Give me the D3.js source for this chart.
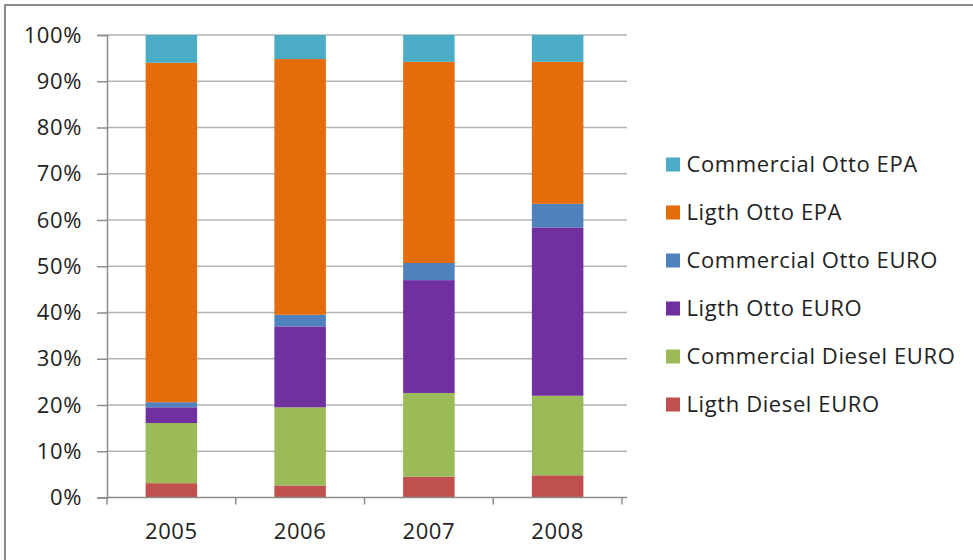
<!DOCTYPE html>
<html>
<head>
<meta charset="utf-8">
<script src="https://cdn.jsdelivr.net/npm/d3@7"></script>
<style>
  html, body { margin: 0; padding: 0; background: #fff; }
  svg { display: block; font-family: "Open Sans", Lato, sans-serif; }
</style>
</head>
<body>
<svg id="chart" width="973" height="560"></svg>
<script>
// Vehicle fleet share by technology, 2005–2008 (percent of total)
const years = ["2005", "2006", "2007", "2008"];
const seriesNames = [
  "Ligth Diesel EURO",
  "Commercial Diesel EURO",
  "Ligth Otto EURO",
  "Commercial Otto EURO",
  "Ligth Otto EPA",
  "Commercial Otto EPA"
];
const ligthDieselEuro      = [3.1, 2.6, 4.5, 4.8];
const commercialDieselEuro = [13.0, 16.9, 18.1, 17.2];
const ligthOttoEuro        = [3.4, 17.5, 24.4, 36.4];
const commercialOttoEuro   = [1.1, 2.5, 3.7, 5.1];
const ligthOttoEpa         = [73.4, 55.3, 43.5, 30.7];
const commercialOttoEpa    = [6.0, 5.2, 5.8, 5.8];
const yTicks = [0, 10, 20, 30, 40, 50, 60, 70, 80, 90, 100];
const colors = ["#C0504D", "#9BBB59", "#7030A0", "#4F81BD", "#E46C0A", "#4BACC6"];

const seriesValues = [ligthDieselEuro, commercialDieselEuro, ligthOttoEuro,
                      commercialOttoEuro, ligthOttoEpa, commercialOttoEpa];

// Rows for d3.stack, normalised to 100% per year
const rows = years.map((y, i) => {
  const r = { year: y };
  let total = 0;
  seriesNames.forEach((s, k) => { total += seriesValues[k][i]; });
  seriesNames.forEach((s, k) => { r[s] = seriesValues[k][i] / total * 100; });
  return r;
});
const stacked = d3.stack().keys(seriesNames)(rows);

const svg = d3.select("#chart");
const FONT = "'Open Sans', Lato, sans-serif";
const FS = "22px";
const LS = "0.6px";

// Outer chart frame
svg.append("rect")
  .attr("x", 5).attr("y", 5).attr("width", 990).attr("height", 600)
  .attr("fill", "#fff").attr("stroke", "#8c8c8c").attr("stroke-width", 2);

const plot = { left: 107, right: 622, top: 35, bottom: 497.5 };

const x = d3.scaleBand().domain(years).range([plot.left, plot.right]).paddingInner(0.6).paddingOuter(0.3);
const xOuter = d3.scaleBand().domain(years).range([plot.left, plot.right]);
const y = d3.scaleLinear().domain([0, 100]).range([plot.bottom, plot.top]);

// Horizontal gridlines
svg.append("g").selectAll("line").data(yTicks.filter(t => t > 0)).join("line")
  .attr("x1", plot.left).attr("x2", plot.right + 5)
  .attr("y1", d => y(d)).attr("y2", d => y(d))
  .attr("stroke", "#b3b3b3").attr("stroke-width", 1.5);

// Y axis
const yAxis = d3.axisLeft(y).tickValues(yTicks).tickFormat(d => d + "%").tickSize(10).tickPadding(15);
const gy = svg.append("g").attr("transform", `translate(${plot.left},0)`).call(yAxis);
gy.select(".domain").attr("stroke", "#8c8c8c").attr("stroke-width", 1.5);
gy.selectAll(".tick line").attr("stroke", "#8c8c8c").attr("stroke-width", 1.5);
gy.selectAll(".tick text").attr("fill", "#222").style("font-size", FS)
  .style("font-family", FONT).style("letter-spacing", LS);

// Bars
svg.append("g").selectAll("g").data(stacked).join("g")
  .attr("fill", (d, i) => colors[i])
  .selectAll("rect").data(d => d).join("rect")
  .attr("x", d => x(d.data.year))
  .attr("width", x.bandwidth())
  .attr("y", d => y(d[1]))
  .attr("height", d => y(d[0]) - y(d[1]));

// X axis with ticks at category boundaries
const gx = svg.append("g").attr("transform", `translate(0,${plot.bottom})`);
gx.append("line").attr("x1", plot.left).attr("x2", plot.right + 5)
  .attr("stroke", "#8c8c8c").attr("stroke-width", 1.5);
const bounds = years.map(yr => xOuter(yr)).concat([plot.right]);
gx.selectAll("line.tk").data(bounds).join("line").attr("class", "tk")
  .attr("x1", d => d).attr("x2", d => d).attr("y1", 0).attr("y2", 7)
  .attr("stroke", "#8c8c8c").attr("stroke-width", 1.5);
gx.selectAll("text").data(years).join("text")
  .attr("x", d => xOuter(d) + xOuter.bandwidth() / 2)
  .attr("y", 34).attr("dy", "0.35em")
  .attr("text-anchor", "middle")
  .attr("fill", "#222").style("font-size", FS).style("font-family", FONT)
  .style("letter-spacing", LS)
  .text(d => d);

// Legend (top entry is the top of the stack)
const legendItems = seriesNames.map((n, i) => ({ name: n, color: colors[i] })).reverse();
const lg = svg.append("g").attr("transform", "translate(666,164.5)");
const item = lg.selectAll("g").data(legendItems).join("g")
  .attr("transform", (d, i) => `translate(0,${i * 48})`);
item.append("rect").attr("x", 0).attr("y", -7).attr("width", 14).attr("height", 14)
  .attr("fill", d => d.color);
item.append("text").attr("x", 20.5).attr("y", 0).attr("dy", "0.35em")
  .attr("fill", "#222").style("font-size", FS).style("font-family", FONT)
  .style("letter-spacing", LS)
  .text(d => d.name);
</script>
</body>
</html>
